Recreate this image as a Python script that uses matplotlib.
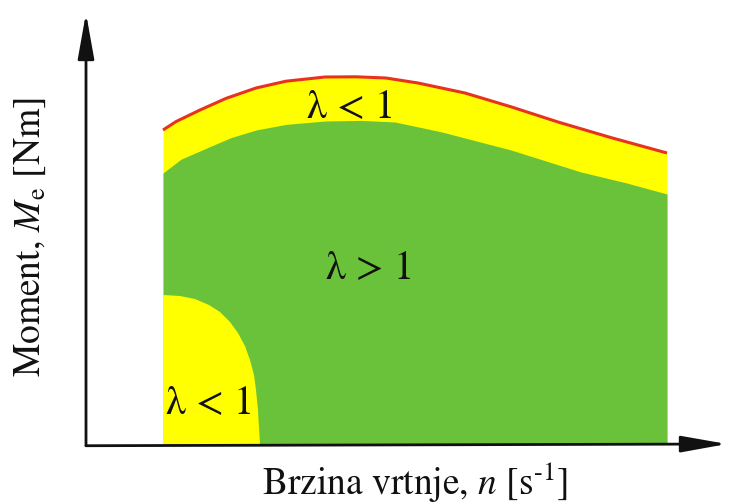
import matplotlib.pyplot as plt

plt.rcParams['font.family'] = ['STIXGeneral', 'DejaVu Serif']
plt.rcParams['mathtext.fontset'] = 'stix'

# envelope of max torque (red line / top of yellow band)
n_max = [15.4, 18.0, 22.8, 28.0, 34.0, 40.0, 47.8, 54.0, 60.0, 66.4, 75.8, 85.0, 94.4, 105.0, 116.2]
M_max = [78.5, 80.6, 83.5, 86.4, 89.0, 90.7, 91.75, 91.8, 91.5, 90.25, 87.75, 84.3, 80.5, 76.6, 72.75]

# top of lambda > 1 region (green)
n_green = [15.4, 19.0, 24.6, 29.0, 34.0, 40.0, 47.8, 55.0, 61.8, 71.2, 85.0, 99.0, 108.0, 116.2]
M_green = [67.75, 71.2, 74.25, 76.6, 78.5, 79.9, 80.75, 80.9, 80.5, 78.0, 73.5, 68.0, 65.3, 62.5]

# boundary of low-speed lambda < 1 region
n_low = [15.4, 18.8, 21.8, 24.6, 26.8, 28.8, 30.4, 31.8, 32.8, 33.6, 34.0, 34.4, 34.6, 34.8]
M_low = [37.25, 37.0, 36.25, 34.75, 33.0, 30.5, 27.75, 24.5, 21.0, 17.25, 13.5, 8.5, 4.0, 0.0]

green = '#69c23a'
yellow = '#ffff00'
red = '#e8321e'

fig = plt.figure(figsize=(7.29, 5.04), dpi=100)
ax = fig.add_axes([86/729, 60/504, (727-86)/729, (444-13)/504])
ax.set_xlim(0, (727-86)/5)
ax.set_ylim(0, (444-13)/4)
ax.axis('off')

ax.fill_between(n_max, M_max, 0, color=yellow, lw=0)
ax.fill_between(n_green, M_green, 0, color=green, lw=0)
ax.fill(n_low + [n_low[0]], M_low + [0.0], color=yellow, lw=0)
ax.plot(n_max, M_max, color=red, lw=2.2, solid_capstyle='butt')

kw = dict(fontsize=29, ha='center', va='center', color='#111111')
ax.text(53, 84.25, 'λ < 1', **kw)
ax.text(56.8, 44, 'λ > 1', **kw)
ax.text(24.8, 10.25, 'λ < 1', **kw)

arrow = dict(arrowstyle='-|>,head_length=2.8,head_width=0.5', mutation_scale=10,
             color='#111111', lw=2.0, shrinkA=0, shrinkB=0)
ax.annotate('', xy=(1, 0), xytext=(0, -0.004), xycoords='axes fraction', arrowprops=arrow)
ax.annotate('', xy=(0, 1), xytext=(0, -0.004), xycoords='axes fraction', arrowprops=arrow)

fig.text(415/729, 1 - 483/504, r'Brzina vrtnje, $n$ [s$^{\text{-1}}$]', fontsize=27,
         ha='center', va='center', color='#111111')
fig.text(30/729, 1 - 237/504, r'Moment, $M_\mathrm{e}$ [Nm]', fontsize=27,
         ha='center', va='center', rotation=90, color='#111111')

fig.savefig('out.png', dpi=100)
